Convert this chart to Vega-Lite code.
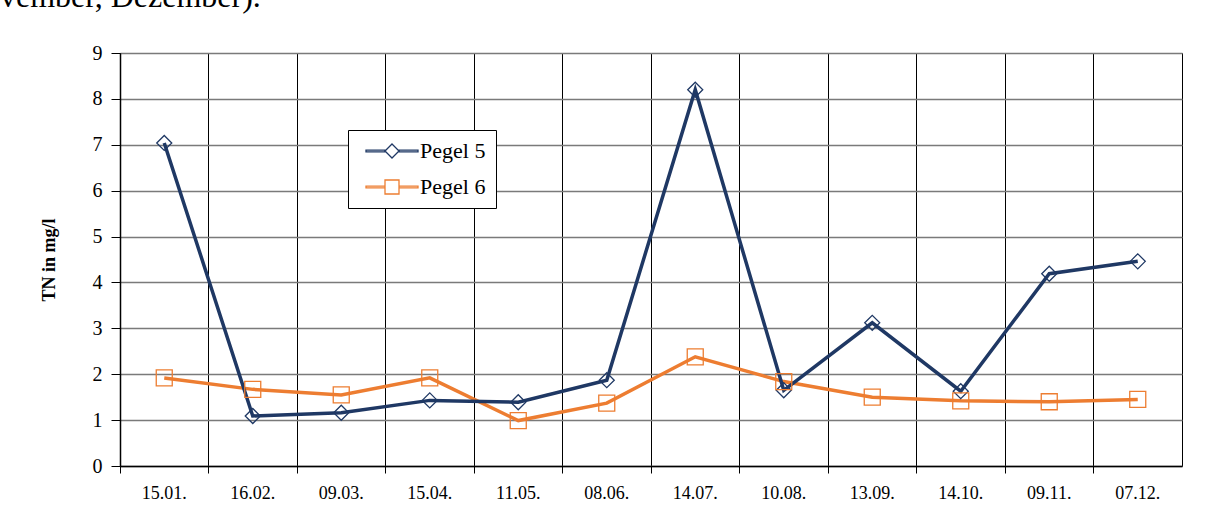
{
  "$schema": "https://vega.github.io/schema/vega-lite/v6.json",
  "width": 1062,
  "height": 413,
  "autosize": {"type": "none"},
  "padding": {"left": 120, "top": 53, "right": 23, "bottom": 64},
  "background": "white",
  "title": {
    "text": "vember, Dezember).",
    "anchor": "start",
    "frame": "group",
    "offset": 29,
    "dx": -120,
    "font": "Liberation Serif",
    "fontSize": 32,
    "fontWeight": "normal",
    "color": "black"
  },
  "config": {
    "view": {"stroke": "black", "strokeWidth": 1},
    "axis": {"labelFont": "Liberation Serif", "titleFont": "Liberation Serif", "labelColor": "black", "titleColor": "black"},
    "legend": {"labelFont": "Liberation Serif", "labelFontSize": 22, "labelColor": "black"}
  },
  "data": {
    "values": [
      {"Datum": "15.01.", "Pegel": "Pegel 5", "TN": 7.04},
      {"Datum": "16.02.", "Pegel": "Pegel 5", "TN": 1.09},
      {"Datum": "09.03.", "Pegel": "Pegel 5", "TN": 1.16},
      {"Datum": "15.04.", "Pegel": "Pegel 5", "TN": 1.43},
      {"Datum": "11.05.", "Pegel": "Pegel 5", "TN": 1.39},
      {"Datum": "08.06.", "Pegel": "Pegel 5", "TN": 1.87},
      {"Datum": "14.07.", "Pegel": "Pegel 5", "TN": 8.2},
      {"Datum": "10.08.", "Pegel": "Pegel 5", "TN": 1.65},
      {"Datum": "13.09.", "Pegel": "Pegel 5", "TN": 3.12},
      {"Datum": "14.10.", "Pegel": "Pegel 5", "TN": 1.63},
      {"Datum": "09.11.", "Pegel": "Pegel 5", "TN": 4.19},
      {"Datum": "07.12.", "Pegel": "Pegel 5", "TN": 4.46},
      {"Datum": "15.01.", "Pegel": "Pegel 6", "TN": 1.92},
      {"Datum": "16.02.", "Pegel": "Pegel 6", "TN": 1.67},
      {"Datum": "09.03.", "Pegel": "Pegel 6", "TN": 1.55},
      {"Datum": "15.04.", "Pegel": "Pegel 6", "TN": 1.92},
      {"Datum": "11.05.", "Pegel": "Pegel 6", "TN": 0.99},
      {"Datum": "08.06.", "Pegel": "Pegel 6", "TN": 1.37},
      {"Datum": "14.07.", "Pegel": "Pegel 6", "TN": 2.38},
      {"Datum": "10.08.", "Pegel": "Pegel 6", "TN": 1.84},
      {"Datum": "13.09.", "Pegel": "Pegel 6", "TN": 1.5},
      {"Datum": "14.10.", "Pegel": "Pegel 6", "TN": 1.42},
      {"Datum": "09.11.", "Pegel": "Pegel 6", "TN": 1.4},
      {"Datum": "07.12.", "Pegel": "Pegel 6", "TN": 1.45}
    ]
  },
  "encoding": {
    "x": {
      "field": "Datum",
      "type": "ordinal",
      "sort": null,
      "bandPosition": 0.5,
      "scale": {"type": "band", "paddingInner": 0, "paddingOuter": 0},
      "axis": {
        "title": null,
        "bandPosition": 0,
        "labelAngle": 0,
        "labelFontSize": 18,
        "labelPadding": 11,
        "labelBaseline": "top",
        "tickColor": "black",
        "tickSize": 7,
        "tickWidth": 1,
        "domainColor": "black",
        "domainWidth": 1.5,
        "grid": true,
        "gridColor": "black",
        "gridWidth": 1,
        "gridOpacity": 1
      }
    },
    "y": {
      "field": "TN",
      "type": "quantitative",
      "scale": {"domain": [0, 9], "nice": false, "zero": true},
      "axis": {
        "title": "TN in mg/l",
        "titleFontSize": 18,
        "titleFontWeight": "bold",
        "titlePadding": 34,
        "values": [0, 1, 2, 3, 4, 5, 6, 7, 8, 9],
        "labelFontSize": 20,
        "labelPadding": 9,
        "tickColor": "black",
        "tickSize": 9,
        "tickWidth": 1,
        "domainColor": "black",
        "domainWidth": 1.5,
        "grid": true,
        "gridColor": "#7a7a7a",
        "gridWidth": 1.5,
        "gridOpacity": 1
      }
    }
  },
  "layer": [
    {
      "transform": [{"filter": "datum.Pegel == 'Pegel 6'"}],
      "mark": {"type": "line", "strokeWidth": 3.5, "color": "#ED7D31"}
    },
    {
      "transform": [{"filter": "datum.Pegel == 'Pegel 5'"}],
      "mark": {"type": "line", "strokeWidth": 3.5, "color": "#1F3864"}
    },
    {
      "transform": [{"filter": "datum.Pegel == 'Pegel 5'"}],
      "mark": {"type": "point", "shape": "diamond", "filled": false, "size": 225, "strokeWidth": 1.3, "opacity": 1, "color": "#1F3864"}
    },
    {
      "transform": [{"filter": "datum.Pegel == 'Pegel 6'"}],
      "mark": {"type": "point", "shape": "square", "filled": false, "size": 256, "strokeWidth": 1.3, "opacity": 1, "color": "#ED7D31"}
    },
    {
      "mark": {"type": "point", "filled": false, "size": 0, "strokeWidth": 1.3, "opacity": 1},
      "encoding": {
        "stroke": {
          "field": "Pegel",
          "type": "nominal",
          "scale": {"domain": ["Pegel 5", "Pegel 6"], "range": ["#1F3864", "#ED7D31"]},
          "legend": {
            "title": null,
            "orient": "none",
            "legendX": 228,
            "legendY": 77,
            "strokeColor": "black",
            "fillColor": "white",
            "padding": 10,
            "rowPadding": 14,
            "symbolSize": 256,
            "symbolStrokeWidth": 1.3,
            "symbolOpacity": 1,
            "symbolOffset": 23,
            "labelOffset": 17,
            "labelFont": "Liberation Serif",
            "labelFontSize": 22,
            "labelColor": "black"
          }
        },
        "shape": {
          "field": "Pegel",
          "type": "nominal",
          "scale": {
            "domain": ["Pegel 5", "Pegel 6"],
            "range": [
              "M-3.25,-0.1H-0.875V0.1H-3.25Z M0.875,-0.1H3.25V0.1H0.875Z M0,-0.875L0.875,0L0,0.875L-0.875,0Z",
              "M-3.25,-0.1H-0.875V0.1H-3.25Z M0.875,-0.1H3.25V0.1H0.875Z M-0.875,-0.875H0.875V0.875H-0.875Z"
            ]
          },
          "legend": {
            "title": null,
            "orient": "none",
            "legendX": 228,
            "legendY": 77,
            "strokeColor": "black",
            "fillColor": "white",
            "padding": 10,
            "rowPadding": 14,
            "symbolSize": 256,
            "symbolStrokeWidth": 1.3,
            "symbolOpacity": 1,
            "symbolOffset": 23,
            "labelOffset": 17,
            "labelFont": "Liberation Serif",
            "labelFontSize": 22,
            "labelColor": "black"
          }
        }
      }
    }
  ]
}
